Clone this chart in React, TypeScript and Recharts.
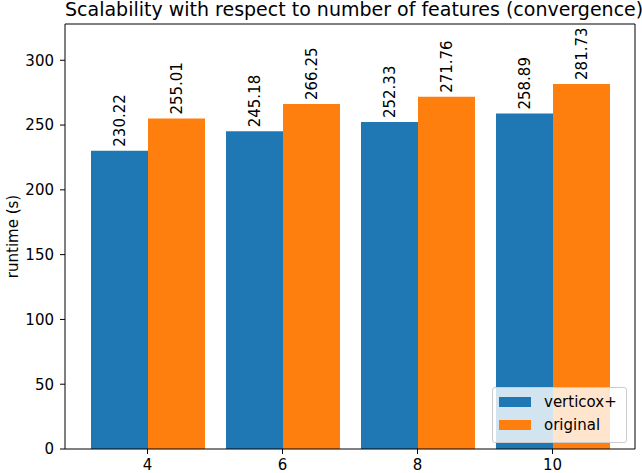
import { Bar, BarChart, LabelList, XAxis, YAxis } from "recharts"

const title = "Scalability with respect to number of features (convergence)"
const yLabel = "runtime (s)"
const features = ["4", "6", "8", "10"]
const verticoxPlus = [230.22, 245.18, 252.33, 258.89]
const original = [255.01, 266.25, 271.76, 281.73]
const yTicks = [0, 50, 100, 150, 200, 250, 300]
const seriesNames = ["verticox+", "original"]
const seriesColors = ["#1f77b4", "#ff7f0e"]

const chartData = features.map((feature, i) => ({
  feature,
  verticox: verticoxPlus[i],
  original: original[i],
}))

const font = "'DejaVu Sans', sans-serif"
const fs = 15

function BarValue(props: any) {
  const { x, y, width, value } = props
  const cx = Number(x) + Number(width) / 2
  const cy = Number(y) - 4
  return (
    <text
      transform={`translate(${cx}, ${cy}) rotate(-90)`}
      textAnchor="start"
      dominantBaseline="central"
      fontSize={fs}
      fontFamily={font}
      fill="#000"
    >
      {Number(value).toFixed(2)}
    </text>
  )
}

function YTitle(props: any) {
  const { viewBox } = props
  const cy = viewBox ? viewBox.y + viewBox.height / 2 : 236
  return (
    <text
      transform={`translate(18, ${cy}) rotate(-90)`}
      textAnchor="middle"
      fontSize={fs}
      fontFamily={font}
      fill="#000"
    >
      {yLabel}
    </text>
  )
}

export default function App() {
  const tick = { fill: "#000", fontSize: fs, fontFamily: font }
  return (
    <div
      style={{
        position: "absolute",
        left: 0,
        top: 0,
        width: 642,
        height: 473,
        background: "#fff",
        fontFamily: font,
        overflow: "hidden",
      }}
    >
      <BarChart
        width={642}
        height={473}
        data={chartData}
        margin={{ top: 23, right: 6, bottom: 0, left: 0 }}
        barCategoryGap={11}
        barGap={0}
        style={{ fontFamily: font }}
      >
        <XAxis
          dataKey="feature"
          padding={{ left: 15, right: 15 }}
          height={24}
          tickSize={5}
          tickMargin={5}
          tick={tick}
          axisLine={{ stroke: "#000" }}
          tickLine={{ stroke: "#000" }}
        />
        <XAxis
          xAxisId="top"
          dataKey="feature"
          orientation="top"
          padding={{ left: 15, right: 15 }}
          height={1}
          tick={false}
          tickLine={false}
          axisLine={{ stroke: "#000" }}
        />
        <YAxis
          domain={[0, 328]}
          ticks={yTicks}
          width={65}
          tickSize={5}
          tickMargin={6}
          tick={tick}
          axisLine={{ stroke: "#000" }}
          tickLine={{ stroke: "#000" }}
          label={<YTitle />}
        />
        <YAxis
          yAxisId="right"
          orientation="right"
          domain={[0, 328]}
          width={1}
          tick={false}
          tickLine={false}
          axisLine={{ stroke: "#000" }}
        />
        <Bar dataKey="verticox" fill={seriesColors[0]} isAnimationActive={false}>
          <LabelList dataKey="verticox" content={<BarValue />} />
        </Bar>
        <Bar dataKey="original" fill={seriesColors[1]} isAnimationActive={false}>
          <LabelList dataKey="original" content={<BarValue />} />
        </Bar>
      </BarChart>
      <div
        style={{
          position: "absolute",
          left: 65,
          width: 570,
          top: 0,
          textAlign: "center",
          fontSize: 19,
          lineHeight: "19px",
          whiteSpace: "nowrap",
          color: "#000",
        }}
      >
        {title}
      </div>
      <div
        style={{
          position: "absolute",
          left: 492,
          top: 387,
          width: 133,
          height: 52,
          border: "1px solid #cccccc",
          borderRadius: 3,
          background: "rgba(255,255,255,0.8)",
          paddingTop: 2,
          boxSizing: "content-box",
        }}
      >
        {seriesNames.map((name, i) => (
          <div
            key={name}
            style={{
              display: "flex",
              alignItems: "center",
              height: 23,
              fontSize: fs,
              color: "#000",
            }}
          >
            <span
              style={{
                display: "inline-block",
                marginLeft: 6,
                width: 32,
                height: 10,
                background: seriesColors[i],
              }}
            />
            <span style={{ marginLeft: 13 }}>{name}</span>
          </div>
        ))}
      </div>
    </div>
  )
}
